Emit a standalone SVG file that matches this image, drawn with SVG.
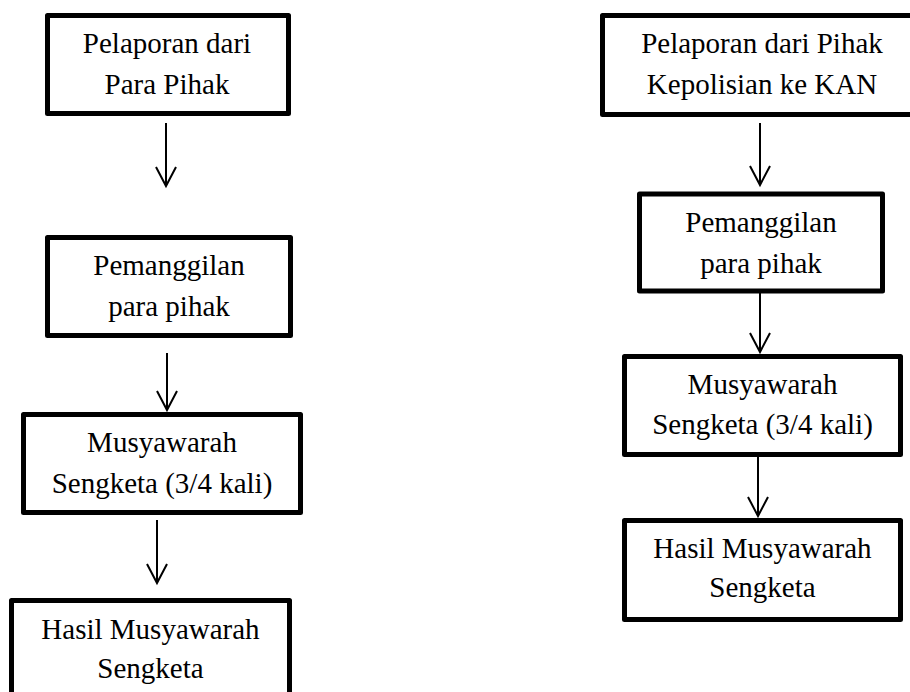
<svg xmlns="http://www.w3.org/2000/svg" width="910" height="692" viewBox="0 0 910 692">
<style>
.box{fill:#fff;stroke:#000;stroke-width:5;stroke-linejoin:round}
.t{font-family:"Liberation Serif","Times New Roman",serif;font-size:29px;fill:#000;text-anchor:middle}
.c{stroke:#000;stroke-width:2;fill:none}
</style>
<defs>
<marker id="arr" markerUnits="userSpaceOnUse" orient="auto" refX="0" refY="0" markerWidth="30" markerHeight="30" overflow="visible">
<path d="M-19,-10 L0,0 L-19,10" fill="none" stroke="#000" stroke-width="2" stroke-linejoin="miter"/>
</marker>
</defs>
<rect width="910" height="692" fill="#fff"/>
<g id="connectors">
<path class="c" d="M166,123 V186" marker-end="url(#arr)"/>
<path class="c" d="M167,353 V410" marker-end="url(#arr)"/>
<path class="c" d="M157,520 V583" marker-end="url(#arr)"/>
<path class="c" d="M760,123 V185" marker-end="url(#arr)"/>
<path class="c" d="M760,293 V352" marker-end="url(#arr)"/>
<path class="c" d="M758,457 V516" marker-end="url(#arr)"/>
</g>
<g id="L1">
<rect class="box" x="47.5" y="15.5" width="241" height="98"/>
<text class="t" x="167" y="53">Pelaporan dari</text>
<text class="t" x="167" y="94">Para Pihak</text>
</g>
<g id="L2">
<rect class="box" x="47.5" y="237.5" width="243" height="98"/>
<text class="t" x="169" y="275">Pemanggilan</text>
<text class="t" x="169" y="316">para pihak</text>
</g>
<g id="L3">
<rect class="box" x="23.5" y="414.5" width="277" height="98"/>
<text class="t" x="162" y="452">Musyawarah</text>
<text class="t" x="162" y="493">Sengketa (3/4 kali)</text>
</g>
<g id="L4">
<rect class="box" x="11.5" y="600.5" width="278" height="98"/>
<text class="t" x="150.5" y="639">Hasil Musyawarah</text>
<text class="t" x="150.5" y="678">Sengketa</text>
</g>
<g id="R1">
<rect class="box" x="602.5" y="15.5" width="320" height="99"/>
<text class="t" x="762" y="53">Pelaporan dari Pihak</text>
<text class="t" x="762" y="94">Kepolisian ke KAN</text>
</g>
<g id="R2">
<rect class="box" x="639.5" y="194" width="243" height="97"/>
<text class="t" x="761" y="232">Pemanggilan</text>
<text class="t" x="761" y="273">para pihak</text>
</g>
<g id="R3">
<rect class="box" x="624.5" y="356.5" width="276" height="98"/>
<text class="t" x="762.5" y="394">Musyawarah</text>
<text class="t" x="762.5" y="434">Sengketa (3/4 kali)</text>
</g>
<g id="R4">
<rect class="box" x="624.5" y="520.5" width="276" height="99"/>
<text class="t" x="762.5" y="558">Hasil Musyawarah</text>
<text class="t" x="762.5" y="597">Sengketa</text>
</g>
</svg>
